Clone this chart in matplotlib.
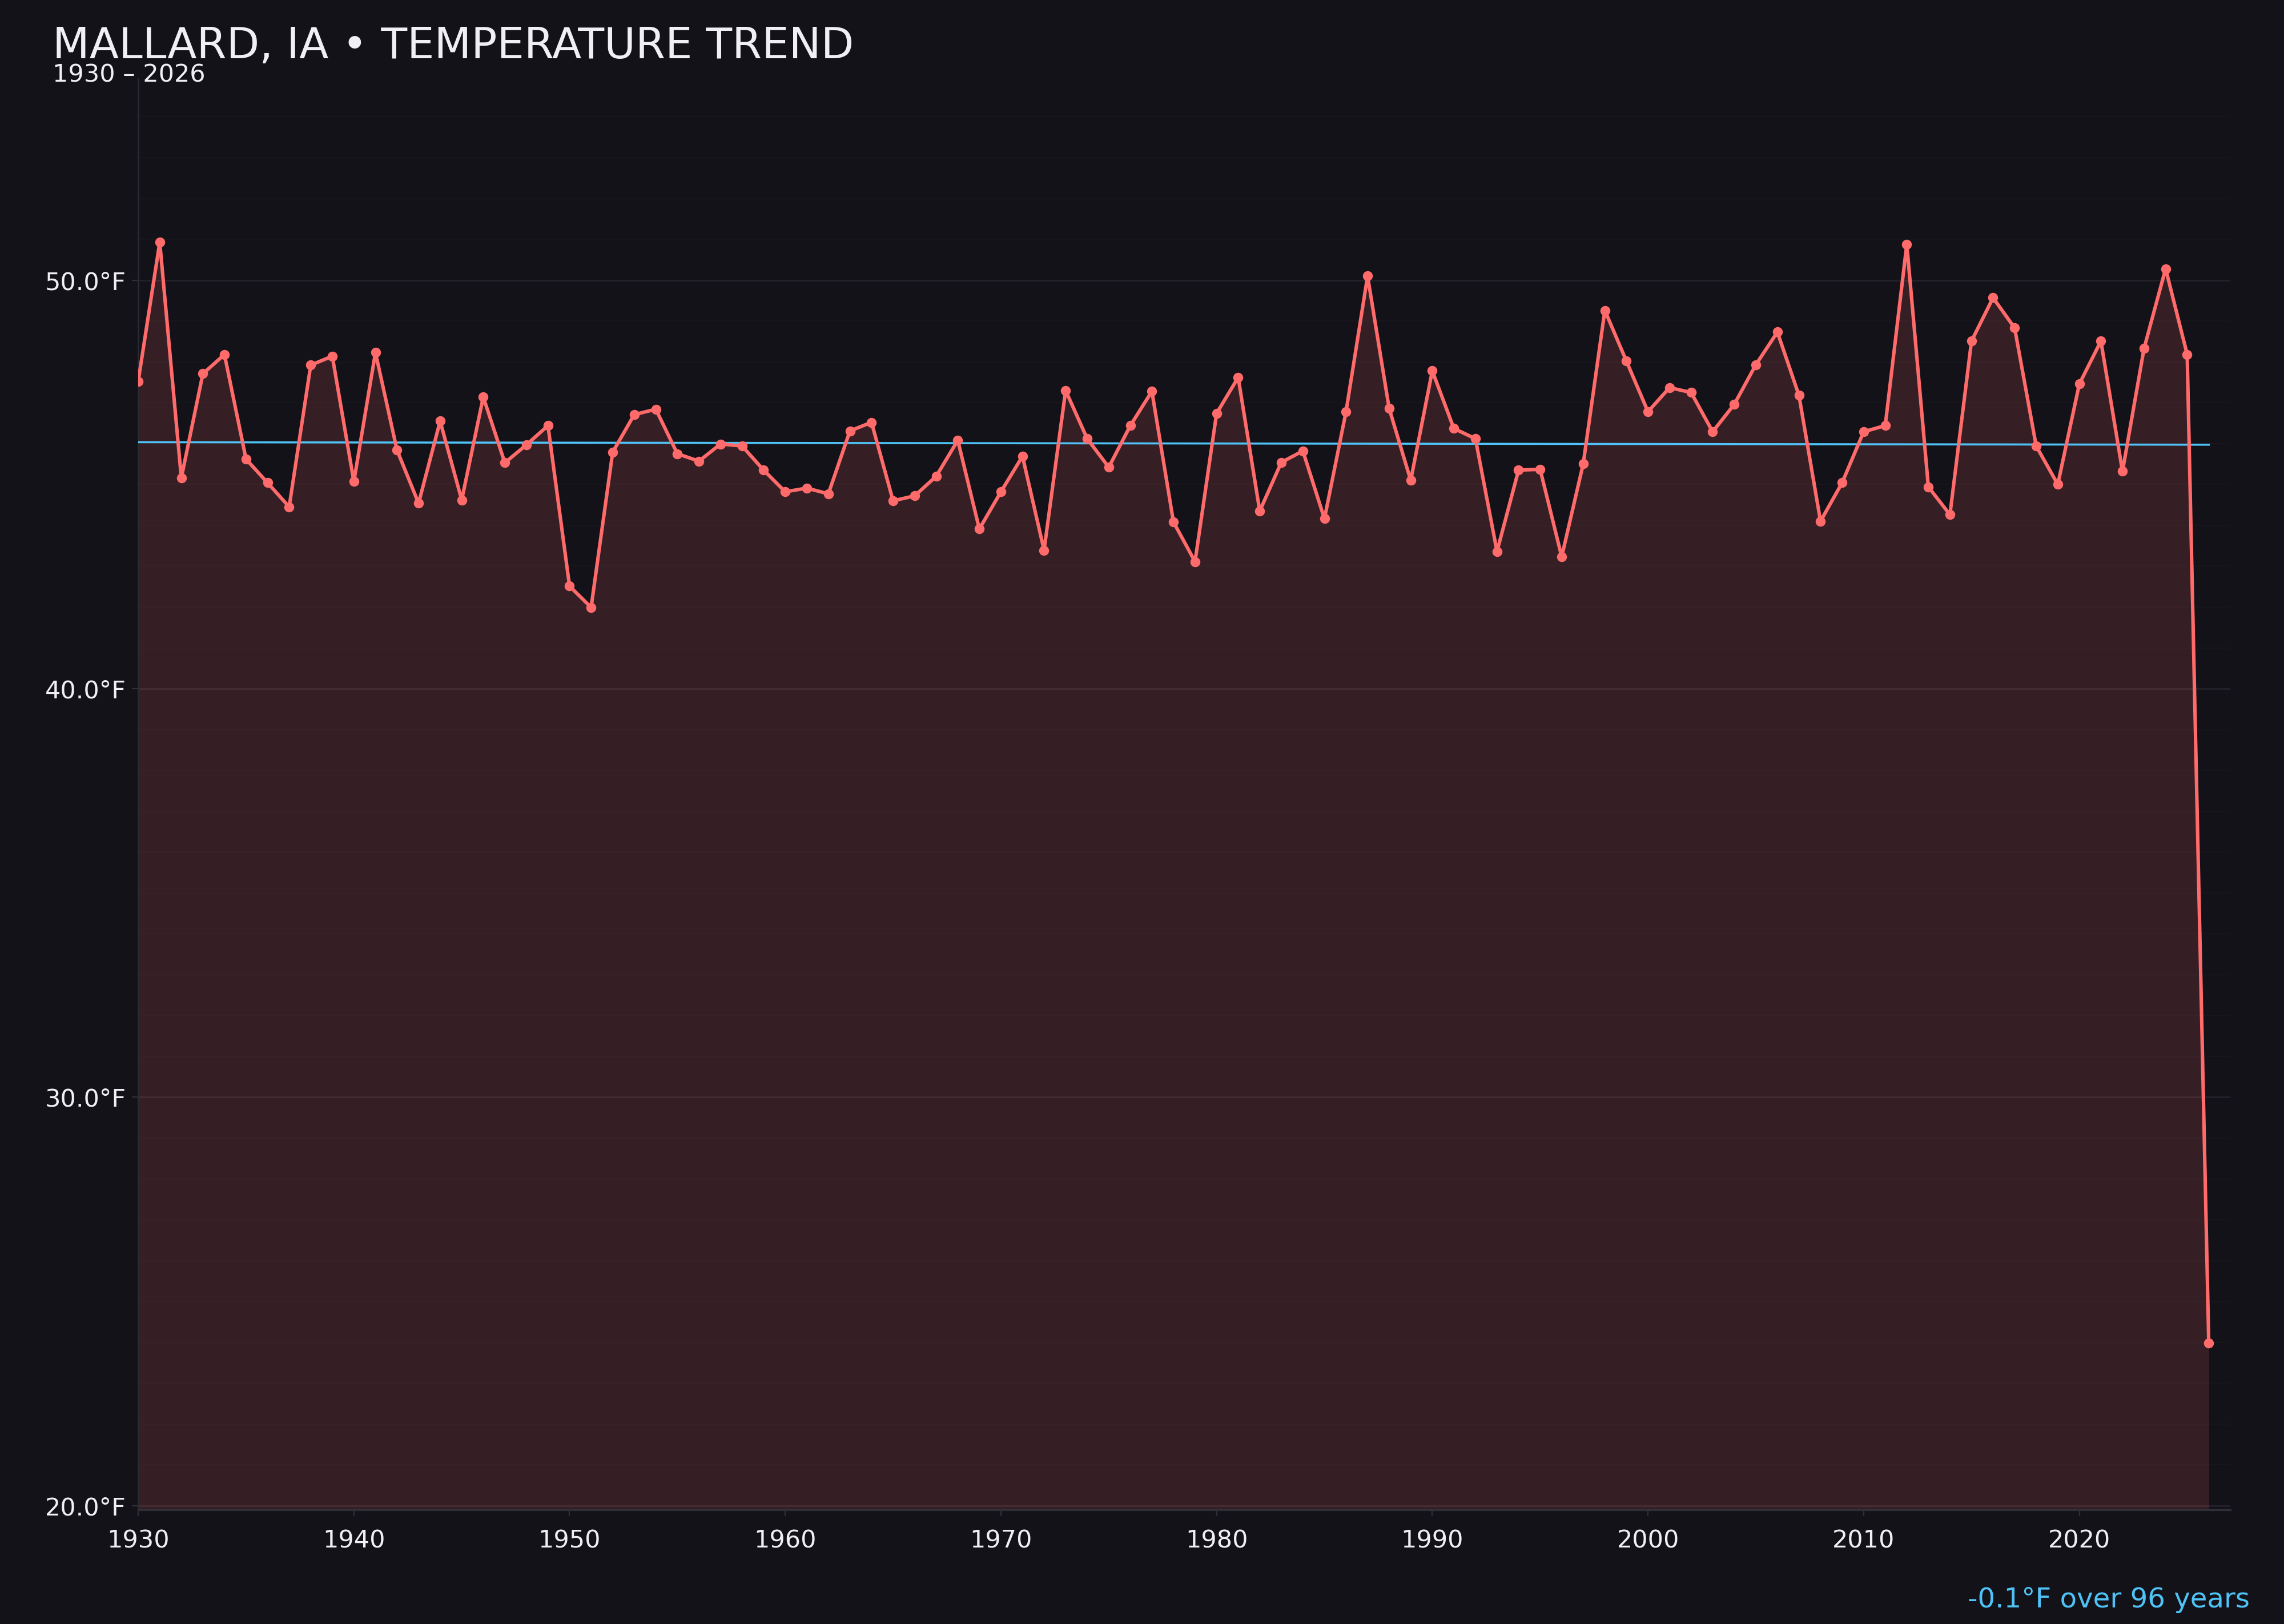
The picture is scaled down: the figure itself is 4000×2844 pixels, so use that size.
import numpy as np
import matplotlib
matplotlib.use("Agg")
import matplotlib.pyplot as plt
from matplotlib.ticker import MultipleLocator, FuncFormatter

years = list(range(1930, 2027))
temps = [
    47.52, 50.93, 45.16, 47.71, 48.18, 45.62, 45.04, 44.45, 47.92, 48.14,
    45.07, 48.23, 45.84, 44.54, 46.55, 44.62, 47.14, 45.53, 45.97, 46.44,
    42.51, 41.99, 45.79, 46.71, 46.84, 45.75, 45.57, 45.99, 45.94, 45.35,
    44.82, 44.91, 44.77, 46.31, 46.52, 44.60, 44.72, 45.20, 46.08, 43.91,
    44.82, 45.69, 43.39, 47.30, 46.12, 45.42, 46.44, 47.28, 44.08, 43.11,
    46.74, 47.62, 44.35, 45.54, 45.82, 44.16, 46.78, 50.10, 46.86, 45.10,
    47.78, 46.37, 46.12, 43.36, 45.35, 45.37, 43.23, 45.51, 49.26, 48.02,
    46.78, 47.37, 47.25, 46.29, 46.96, 47.93, 48.73, 47.18, 44.10, 45.04,
    46.29, 46.44, 50.88, 44.94, 44.26, 48.51, 49.57, 48.83, 45.94, 45.00,
    47.46, 48.51, 45.32, 48.33, 50.28, 48.18, 23.98,
]
title = "MALLARD, IA \u2022 TEMPERATURE TREND"
subtitle = "1930 \u2013 2026"
trend_note = "-0.1\u00b0F over 96 years"
x_ticks = [1930, 1940, 1950, 1960, 1970, 1980, 1990, 2000, 2010, 2020]

BG = "#131218"
LINE = "#ff6b6b"
TREND = "#4fc3f7"
TEXT = "#f0eff5"

plt.rcParams["font.family"] = ["DejaVu Sans"]

fig = plt.figure(figsize=(20, 14.22), dpi=200, facecolor=BG)
ax = fig.add_axes([0.0605, 0.0703, 0.916, 0.8812])
ax.set_facecolor(BG)

x = np.array(years, dtype=float)
y = np.array(temps, dtype=float)
ymin, ymax = 19.9, 54.93

ax.fill_between(x, y, ymin, color=LINE, alpha=0.15, linewidth=0, zorder=2)
ax.plot(x, y, color=LINE, linewidth=2.2, marker="o", markersize=6.3,
        markeredgewidth=0, zorder=4)

coef = np.polyfit(x, y, 1)
ax.plot(x, np.polyval(coef, x), color=TREND, linewidth=1.3, zorder=3)

ax.set_xlim(1930, 2027)
ax.set_ylim(ymin, ymax)
ax.set_xticks(x_ticks)
ax.yaxis.set_major_locator(MultipleLocator(10))
ax.yaxis.set_minor_locator(MultipleLocator(1))
ax.yaxis.set_major_formatter(FuncFormatter(lambda v, p: f"{v:.1f}\u00b0F"))

ax.grid(True, which="major", axis="y", color="#23222a", linewidth=1.0, zorder=1)
ax.grid(True, which="minor", axis="y", color="#17161c", linewidth=0.8, zorder=1)
ax.set_axisbelow(True)

for s in ["top", "right"]:
    ax.spines[s].set_visible(False)
ax.spines["left"].set_color("#2a2a33")
ax.spines["bottom"].set_color("#2f2f38")
ax.spines["left"].set_linewidth(1.0)
ax.spines["bottom"].set_linewidth(1.2)

ax.tick_params(axis="both", which="major", colors="#2f2f38", labelcolor=TEXT,
               labelsize=15.5, length=4)
ax.tick_params(axis="y", which="minor", length=0)
ax.tick_params(axis="x", pad=8)

fig.text(0.023, 0.964, title, color=TEXT, fontsize=27, ha="left", va="baseline")
fig.text(0.023, 0.9495, subtitle, color=TEXT, fontsize=15.5, ha="left", va="baseline")
fig.text(0.985, 0.0102, trend_note, color=TREND, fontsize=17.4, ha="right", va="baseline")

fig.savefig("out.png", dpi=200, facecolor=BG)
